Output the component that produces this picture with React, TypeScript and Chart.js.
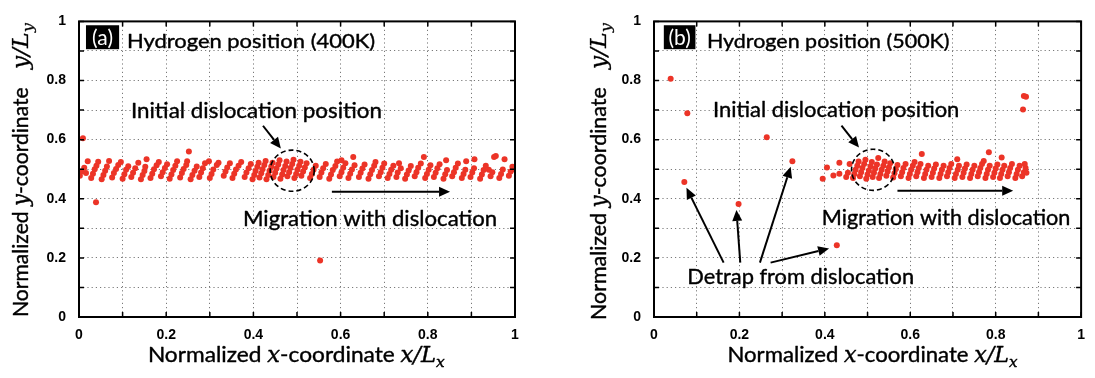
import React, { useEffect, useRef } from 'react';
import { Chart, registerables } from 'chart.js';

Chart.register(...registerables);

type Pt = [number, number];

// ---------- axis ticks ----------
const TICK_POSITIONS = [0, 0.1, 0.2, 0.3, 0.4, 0.5, 0.6, 0.7, 0.8, 0.9, 1];
const LABELLED_TICKS = [0, 0.2, 0.4, 0.6, 0.8, 1];

// ---------- panel (a): hydrogen positions at 400K ----------
const hydrogen400K: Pt[] = [
  [0.009, 0.605], [0.039, 0.388], [0.553, 0.191], [0.252, 0.56], [0.952, 0.541],
  [0.002, 0.478], [0.006, 0.492], [0.012, 0.505], [0.02, 0.527], [0.016, 0.487],
  [0.028, 0.47], [0.032, 0.485], [0.036, 0.5], [0.044, 0.525], [0.04, 0.512],
  [0.052, 0.466], [0.056, 0.48], [0.06, 0.495], [0.064, 0.509], [0.069, 0.528],
  [0.076, 0.472], [0.08, 0.487], [0.085, 0.501], [0.09, 0.514], [0.096, 0.524],
  [0.1, 0.468], [0.104, 0.483], [0.108, 0.498], [0.113, 0.51],
  [0.12, 0.474], [0.124, 0.488], [0.129, 0.503], [0.136, 0.522],
  [0.142, 0.466], [0.146, 0.48], [0.15, 0.494], [0.155, 0.534], [0.152, 0.508],
  [0.164, 0.47], [0.168, 0.485], [0.172, 0.5], [0.178, 0.513], [0.183, 0.524],
  [0.188, 0.476], [0.192, 0.49], [0.197, 0.504], [0.202, 0.517],
  [0.208, 0.468], [0.212, 0.482], [0.216, 0.497], [0.221, 0.512], [0.225, 0.527],
  [0.232, 0.472], [0.236, 0.487], [0.24, 0.501], [0.246, 0.514], [0.248, 0.527],
  [0.256, 0.466], [0.26, 0.48], [0.265, 0.495], [0.27, 0.509],
  [0.276, 0.474], [0.28, 0.489], [0.284, 0.503], [0.289, 0.52], [0.298, 0.527],
  [0.3, 0.47], [0.304, 0.484], [0.308, 0.499], [0.316, 0.514], [0.32, 0.522],
  [0.332, 0.478], [0.336, 0.492], [0.34, 0.506], [0.346, 0.52],
  [0.352, 0.47], [0.356, 0.485], [0.36, 0.499], [0.366, 0.512], [0.372, 0.524],
  [0.38, 0.474], [0.384, 0.489], [0.389, 0.503], [0.394, 0.518],
  [0.398, 0.466], [0.402, 0.48], [0.405, 0.494], [0.409, 0.508], [0.412, 0.522],
  [0.414, 0.472], [0.418, 0.486], [0.421, 0.5], [0.425, 0.514], [0.428, 0.528],
  [0.43, 0.466], [0.434, 0.48], [0.437, 0.495], [0.441, 0.509], [0.444, 0.522],
  [0.446, 0.474], [0.45, 0.488], [0.453, 0.502], [0.457, 0.516], [0.46, 0.53],
  [0.462, 0.468], [0.466, 0.482], [0.469, 0.497], [0.473, 0.511], [0.476, 0.526],
  [0.478, 0.476], [0.482, 0.49], [0.485, 0.504], [0.489, 0.518], [0.492, 0.532],
  [0.494, 0.47], [0.498, 0.484], [0.501, 0.498], [0.505, 0.512], [0.508, 0.525],
  [0.51, 0.478], [0.514, 0.492], [0.518, 0.506], [0.522, 0.52],
  [0.53, 0.47], [0.534, 0.484], [0.538, 0.498], [0.543, 0.512],
  [0.552, 0.474], [0.556, 0.489], [0.56, 0.503], [0.566, 0.518],
  [0.574, 0.468], [0.578, 0.482], [0.582, 0.497], [0.588, 0.511], [0.592, 0.526],
  [0.598, 0.476], [0.602, 0.49], [0.606, 0.505], [0.611, 0.52], [0.602, 0.53],
  [0.618, 0.47], [0.622, 0.485], [0.626, 0.499], [0.632, 0.513], [0.629, 0.541],
  [0.642, 0.474], [0.646, 0.488], [0.65, 0.502], [0.655, 0.516],
  [0.664, 0.468], [0.668, 0.483], [0.672, 0.497], [0.677, 0.512], [0.68, 0.524],
  [0.688, 0.476], [0.692, 0.49], [0.696, 0.505], [0.7, 0.519],
  [0.708, 0.47], [0.712, 0.484], [0.716, 0.498], [0.721, 0.512],
  [0.728, 0.474], [0.731, 0.489], [0.734, 0.52], [0.738, 0.503],
  [0.748, 0.468], [0.752, 0.482], [0.756, 0.496], [0.761, 0.511],
  [0.77, 0.476], [0.774, 0.49], [0.778, 0.505], [0.784, 0.519], [0.791, 0.541],
  [0.794, 0.47], [0.798, 0.484], [0.802, 0.498], [0.806, 0.513],
  [0.814, 0.474], [0.818, 0.488], [0.822, 0.503], [0.827, 0.517],
  [0.836, 0.468], [0.84, 0.483], [0.842, 0.53], [0.844, 0.497],
  [0.856, 0.476], [0.86, 0.49], [0.864, 0.505], [0.869, 0.519],
  [0.878, 0.47], [0.882, 0.484], [0.888, 0.527], [0.886, 0.498],
  [0.898, 0.474], [0.902, 0.489], [0.907, 0.534], [0.906, 0.503],
  [0.92, 0.468], [0.924, 0.482], [0.928, 0.497], [0.933, 0.512],
  [0.94, 0.498], [0.944, 0.476], [0.948, 0.49], [0.956, 0.545],
  [0.964, 0.47], [0.968, 0.484], [0.972, 0.499], [0.976, 0.534],
  [0.986, 0.478], [0.99, 0.492], [0.996, 0.5], [0.994, 0.508],
];

// ---------- panel (b): hydrogen positions at 500K ----------
const hydrogen500K: Pt[] = [
  [0.039, 0.806], [0.078, 0.689], [0.264, 0.608], [0.324, 0.527], [0.071, 0.457],
  [0.198, 0.382], [0.428, 0.243], [0.866, 0.748], [0.871, 0.745], [0.864, 0.702],
  [0.395, 0.468], [0.405, 0.506], [0.42, 0.479],
  [0.434, 0.485], [0.434, 0.522],
  [0.45, 0.474], [0.454, 0.488], [0.458, 0.518],
  [0.466, 0.47], [0.469, 0.484], [0.472, 0.498], [0.476, 0.512], [0.479, 0.526],
  [0.482, 0.476], [0.485, 0.49], [0.488, 0.504], [0.492, 0.518], [0.495, 0.532],
  [0.497, 0.468], [0.5, 0.482], [0.503, 0.496], [0.507, 0.51], [0.51, 0.524],
  [0.512, 0.474], [0.515, 0.488], [0.518, 0.502], [0.522, 0.516], [0.525, 0.538],
  [0.527, 0.47], [0.53, 0.484], [0.533, 0.498], [0.537, 0.512], [0.54, 0.526],
  [0.544, 0.478], [0.547, 0.492], [0.55, 0.506], [0.553, 0.52],
  [0.56, 0.472], [0.563, 0.486], [0.566, 0.5], [0.57, 0.514],
  [0.578, 0.476], [0.581, 0.49], [0.584, 0.504], [0.589, 0.518],
  [0.596, 0.47], [0.599, 0.484], [0.602, 0.498], [0.606, 0.512], [0.61, 0.524],
  [0.614, 0.476], [0.617, 0.49], [0.62, 0.504], [0.627, 0.551], [0.624, 0.518],
  [0.632, 0.47], [0.635, 0.484], [0.638, 0.498], [0.642, 0.512],
  [0.65, 0.474], [0.653, 0.488], [0.656, 0.502], [0.66, 0.516],
  [0.668, 0.47], [0.671, 0.484], [0.674, 0.498], [0.678, 0.512],
  [0.686, 0.476], [0.689, 0.49], [0.692, 0.504], [0.696, 0.518],
  [0.704, 0.47], [0.707, 0.484], [0.71, 0.534], [0.711, 0.498], [0.714, 0.512],
  [0.722, 0.474], [0.725, 0.488], [0.728, 0.502], [0.732, 0.516],
  [0.74, 0.47], [0.743, 0.484], [0.746, 0.498], [0.75, 0.512],
  [0.758, 0.476], [0.761, 0.49], [0.764, 0.504], [0.768, 0.518], [0.772, 0.528],
  [0.776, 0.47], [0.779, 0.484], [0.784, 0.557], [0.782, 0.498], [0.786, 0.512],
  [0.794, 0.474], [0.797, 0.488], [0.8, 0.502], [0.804, 0.516],
  [0.81, 0.47], [0.814, 0.54], [0.813, 0.484], [0.816, 0.498], [0.82, 0.512],
  [0.828, 0.476], [0.831, 0.49], [0.834, 0.504], [0.838, 0.518],
  [0.846, 0.47], [0.849, 0.484], [0.852, 0.498], [0.856, 0.512],
  [0.862, 0.476], [0.866, 0.49], [0.87, 0.504], [0.872, 0.488], [0.868, 0.518],
];

// ---------- text ----------
const SANS = 'Lato, "Open Sans", sans-serif';
const TICK_FONT = '"Liberation Sans", Arial, sans-serif';
const MATH = '"DejaVu Serif", serif';
const POINT_COLOR = '#ec3427';

type Seg = { t: string; font: string; dy?: number };
type TextItem = { text: string; x0: number; x1: number; base: number; size: number };
type Arrow = { from: Pt; to: Pt };
type PanelSpec = {
  tag: string;
  points: Pt[];
  tagBox: [number, number, number, number];
  texts: TextItem[];
  arrows: Arrow[];
  circle: { x: number; y: number; rx: number; ry: number };
  xTitle: { x0: number; x1: number; base: number };
  yTitle: { base: number; y0: number; y1: number; y2: number; y3: number };
  left: number;
  canvasLeft: number;
  canvasWidth: number;
  rightPad: number;
};

const panelA: PanelSpec = {
  tag: '(a)',
  points: hydrogen400K,
  tagBox: [0.016, 0.987, 0.092, 0.906],
  texts: [
    { text: 'Hydrogen position (400K)', x0: 0.11, x1: 0.679, base: 0.909, size: 20 },
    { text: 'Initial dislocation position', x0: 0.119, x1: 0.695, base: 0.673, size: 22 },
    { text: 'Migration with dislocation', x0: 0.376, x1: 0.959, base: 0.307, size: 22 },
  ],
  arrows: [
    { from: [0.422, 0.647], to: [0.463, 0.57] },
    { from: [0.58, 0.424], to: [0.851, 0.424] },
  ],
  circle: { x: 0.489, y: 0.495, rx: 0.0505, ry: 0.0696 },
  xTitle: { x0: 0.158, x1: 0.839, base: -0.152 },
  yTitle: { base: -0.117, y0: 0, y1: 0.777, y2: 0.838, y3: 0.994 },
  left: 79,
  canvasLeft: 0,
  canvasWidth: 547,
  rightPad: 32,
};

const panelB: PanelSpec = {
  tag: '(b)',
  points: hydrogen500K,
  tagBox: [0.023, 0.987, 0.097, 0.906],
  texts: [
    { text: 'Hydrogen position (500K)', x0: 0.124, x1: 0.692, base: 0.909, size: 20 },
    { text: 'Initial dislocation position', x0: 0.138, x1: 0.715, base: 0.676, size: 22 },
    { text: 'Migration with dislocation', x0: 0.393, x1: 0.975, base: 0.311, size: 22 },
    { text: 'Detrap from dislocation', x0: 0.078, x1: 0.609, base: 0.113, size: 22 },
  ],
  arrows: [
    { from: [0.439, 0.647], to: [0.48, 0.573] },
    { from: [0.57, 0.427], to: [0.841, 0.427] },
    { from: [0.163, 0.184], to: [0.076, 0.437] },
    { from: [0.202, 0.184], to: [0.193, 0.362] },
    { from: [0.248, 0.184], to: [0.32, 0.508] },
    { from: [0.273, 0.184], to: [0.41, 0.232] },
  ],
  circle: { x: 0.513, y: 0.498, rx: 0.0505, ry: 0.0696 },
  xTitle: { x0: 0.172, x1: 0.851, base: -0.152 },
  yTitle: { base: -0.113, y0: -0.01, y1: 0.777, y2: 0.838, y3: 0.994 },
  left: 107,
  canvasLeft: 547,
  canvasWidth: 548,
  rightPad: 6,
};

function drawSegs(ctx: CanvasRenderingContext2D, segs: Seg[], x: number, y: number, width: number, stroke = 0) {
  let total = 0;
  const ws = segs.map((s) => {
    ctx.font = s.font;
    const w = ctx.measureText(s.t).width;
    total += w;
    return w;
  });
  const k = width / total;
  ctx.save();
  ctx.translate(x, y);
  ctx.scale(k, 1);
  ctx.textBaseline = 'alphabetic';
  ctx.textAlign = 'left';
  ctx.strokeStyle = ctx.fillStyle as string;
  ctx.lineWidth = stroke;
  ctx.lineJoin = 'round';
  let cx = 0;
  segs.forEach((s, i) => {
    ctx.font = s.font;
    ctx.fillText(s.t, cx, s.dy || 0);
    if (stroke > 0) ctx.strokeText(s.t, cx, s.dy || 0);
    cx += ws[i];
  });
  ctx.restore();
}

function drawArrow(ctx: CanvasRenderingContext2D, x1: number, y1: number, x2: number, y2: number) {
  const ang = Math.atan2(y2 - y1, x2 - x1);
  const head = 11;
  const half = 5;
  const bx = x2 - head * Math.cos(ang);
  const by = y2 - head * Math.sin(ang);
  ctx.beginPath();
  ctx.moveTo(x1, y1);
  ctx.lineTo(bx, by);
  ctx.stroke();
  ctx.beginPath();
  ctx.moveTo(x2, y2);
  ctx.lineTo(bx + half * Math.sin(ang), by - half * Math.cos(ang));
  ctx.lineTo(bx - half * Math.sin(ang), by + half * Math.cos(ang));
  ctx.closePath();
  ctx.fill();
}

function makeOverlay(spec: PanelSpec) {
  return {
    id: 'overlay' + spec.tag,
    afterDatasetsDraw(chart: any) {
      const { ctx, chartArea } = chart;
      const xs = chart.scales.x;
      const ys = chart.scales.y;
      const X = (v: number) => xs.getPixelForValue(v);
      const Y = (v: number) => ys.getPixelForValue(v);
      const { left, right, top, bottom } = chartArea;
      ctx.save();
      ctx.strokeStyle = '#000';
      ctx.lineWidth = 1.5;
      ctx.beginPath();
      TICK_POSITIONS.forEach((v) => {
        const px = X(v);
        ctx.moveTo(px, bottom);
        ctx.lineTo(px, bottom - 5);
        ctx.moveTo(px, top);
        ctx.lineTo(px, top + 5);
        const py = Y(v);
        ctx.moveTo(left, py);
        ctx.lineTo(left + 5, py);
        ctx.moveTo(right, py);
        ctx.lineTo(right - 5, py);
      });
      ctx.stroke();
      ctx.lineWidth = 2;
      ctx.strokeRect(left, top, right - left, bottom - top);

      // tag box
      const [bx0, by0, bx1, by1] = spec.tagBox;
      ctx.fillStyle = '#000';
      ctx.fillRect(X(bx0), Y(by0), X(bx1) - X(bx0), Y(by1) - Y(by0));
      ctx.fillStyle = '#fff';
      ctx.font = `21px ${SANS}`;
      ctx.textAlign = 'center';
      ctx.textBaseline = 'middle';
      ctx.fillText(spec.tag, (X(bx0) + X(bx1)) / 2, (Y(by0) + Y(by1)) / 2 + 1);

      // texts
      ctx.fillStyle = '#000';
      spec.texts.forEach((t) => {
        drawSegs(ctx, [{ t: t.text, font: `${t.size}px ${SANS}` }], X(t.x0), Y(t.base), X(t.x1) - X(t.x0), 0.4);
      });

      // arrows
      ctx.strokeStyle = '#000';
      ctx.fillStyle = '#000';
      ctx.lineWidth = 2;
      spec.arrows.forEach((a) => drawArrow(ctx, X(a.from[0]), Y(a.from[1]), X(a.to[0]), Y(a.to[1])));

      // dashed circle
      const c = spec.circle;
      ctx.setLineDash([5, 3]);
      ctx.lineWidth = 1.6;
      ctx.beginPath();
      ctx.ellipse(X(c.x), Y(c.y), X(c.x + c.rx) - X(c.x), Y(c.y) - Y(c.y + c.ry), 0, 0, Math.PI * 2);
      ctx.stroke();
      ctx.setLineDash([]);

      // x title
      const big = `22px ${SANS}`;
      const mi = `italic 22px ${MATH}`;
      const sub = `italic 15px ${MATH}`;
      const xt = spec.xTitle;
      drawSegs(
        ctx,
        [
          { t: 'Normalized ', font: big },
          { t: 'x', font: mi },
          { t: '-coordinate ', font: big },
          { t: 'x/L', font: mi },
          { t: 'x', font: sub, dy: 5 },
        ],
        X(xt.x0),
        Y(xt.base),
        X(xt.x1) - X(xt.x0),
        0.4
      );

      // y title (rotated)
      const yt = spec.yTitle;
      const bxp = X(yt.base);
      ctx.save();
      ctx.translate(bxp, Y(yt.y0));
      ctx.rotate(-Math.PI / 2);
      drawSegs(
        ctx,
        [
          { t: 'Normalized ', font: big },
          { t: 'y', font: mi },
          { t: '-coordinate', font: big },
        ],
        0,
        0,
        Y(yt.y0) - Y(yt.y1),
        0.4
      );
      ctx.restore();
      ctx.save();
      ctx.translate(bxp, Y(yt.y2));
      ctx.rotate(-Math.PI / 2);
      drawSegs(
        ctx,
        [
          { t: 'y/L', font: mi },
          { t: 'y', font: sub, dy: 5 },
        ],
        0,
        0,
        Y(yt.y2) - Y(yt.y3),
        0.3
      );
      ctx.restore();

      ctx.restore();
    },
  };
}

const tickLabel = (v: number | string) => {
  const n = Number(v);
  const hit = LABELLED_TICKS.find((t) => Math.abs(t - n) < 1e-6);
  return hit === undefined ? '' : String(hit);
};

function axis(kind: 'x' | 'y', size: number) {
  return {
    type: 'linear' as const,
    min: 0,
    max: 1,
    position: kind === 'x' ? ('bottom' as const) : ('left' as const),
    afterFit: (s: any) => {
      if (kind === 'x') s.height = size;
      else s.width = size;
    },
    grid: { color: '#7a7a7a', lineWidth: 1, drawTicks: false },
    border: { display: false, dash: [1.2, 3] },
    ticks: {
      stepSize: 0.1,
      autoSkip: false,
      maxRotation: 0,
      minRotation: 0,
      padding: kind === 'x' ? 10 : 13,
      color: '#000',
      font: { family: TICK_FONT, size: 14, weight: 'bold' as const },
      callback: tickLabel,
    },
  };
}

function Panel({ spec }: { spec: PanelSpec }) {
  const ref = useRef<HTMLCanvasElement>(null);
  useEffect(() => {
    if (!ref.current) return;
    const chart = new Chart(ref.current, {
      type: 'scatter',
      data: {
        datasets: [
          {
            data: spec.points.map(([x, y]) => ({ x, y })),
            backgroundColor: POINT_COLOR,
            borderWidth: 0,
            pointRadius: 3,
            pointStyle: 'circle',
          },
        ],
      },
      options: {
        animation: false,
        responsive: false,
        maintainAspectRatio: false,
        devicePixelRatio: 1,
        layout: { padding: { left: 0, right: spec.rightPad, top: 8, bottom: 0 } },
        plugins: { legend: { display: false }, tooltip: { enabled: false } },
        scales: { x: axis('x', 61), y: axis('y', spec.left) },
      },
      plugins: [makeOverlay(spec)],
    });
    return () => chart.destroy();
  }, [spec]);
  return (
    <canvas
      ref={ref}
      width={spec.canvasWidth}
      height={378}
      style={{ position: 'absolute', left: spec.canvasLeft, top: 0, width: spec.canvasWidth, height: 378 }}
    />
  );
}

export default function App() {
  return (
    <div style={{ position: 'absolute', left: 0, top: 0, width: 1095, height: 378, background: '#fff' }}>
      <Panel spec={panelA} />
      <Panel spec={panelB} />
    </div>
  );
}
